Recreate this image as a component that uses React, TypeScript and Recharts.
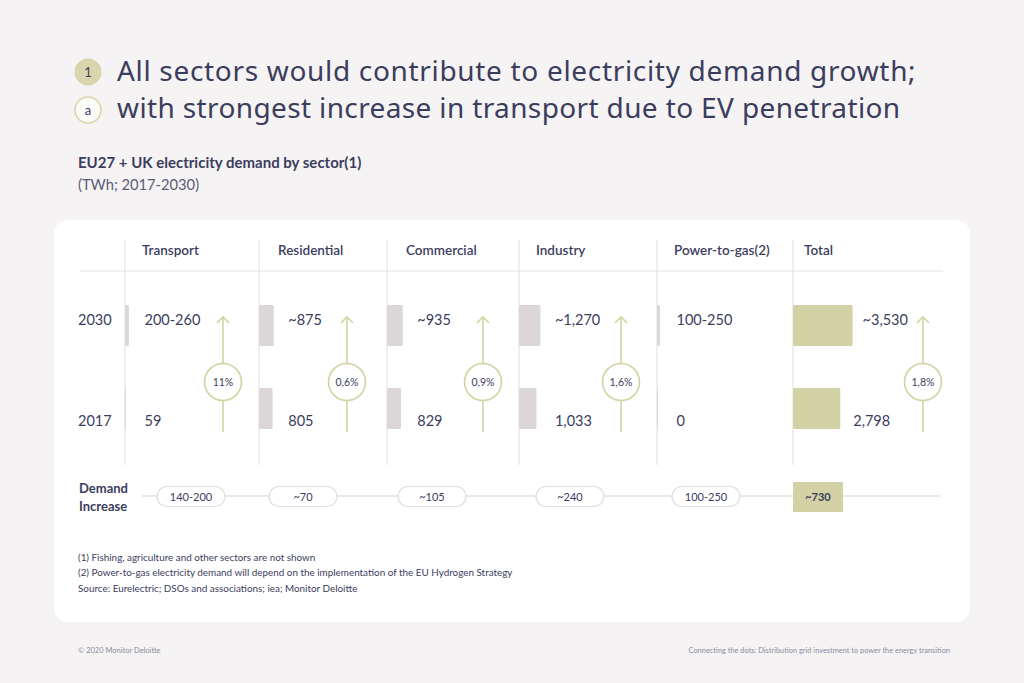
import React from 'react';
import { BarChart, Bar, XAxis, YAxis, Cell, LabelList } from 'recharts';

const sectors = ['Transport', 'Residential', 'Commercial', 'Industry', 'Power-to-gas(2)', 'Total'];
const years = ['2030', '2017'];
// TWh; ranges plotted at their midpoint
const demand2030 = [230, 875, 935, 1270, 175, 3530];
const demand2017 = [59, 805, 829, 1033, 0, 2798];
const labels2030 = ['200-260', '~875', '~935', '~1,270', '100-250', '~3,530'];
const labels2017 = ['59', '805', '829', '1,033', '0', '2,798'];
const growthRates = ['11%', '0,6%', '0,9%', '1,6%', '', '1,8%'];
const demandIncrease = ['140-200', '~70', '~105', '~240', '100-250', '~730'];

const footnotes = [
  '(1) Fishing, agriculture and other sectors are not shown',
  '(2) Power-to-gas electricity demand will depend on the implementation of the EU Hydrogen Strategy',
  'Source: Eurelectric; DSOs and associations; iea; Monitor Deloitte',
];

const INK = '#3b3d5d';
const OLIVE = '#d3d1a6';
const GREYBAR = '#dcd6d6';
const ARROW = '#d2d2a2';
const FONT = 'Lato, "Open Sans", sans-serif';

// layout
const colX = [125, 259, 387, 519, 657, 793];
const headerX = [142, 278, 406, 536, 674, 804];
const arrowX = [223, 347, 483, 621, 0, 923];
const pillX = [191, 303, 432, 570, 706, 818];
const PLOT_W = 130;
const MAX_X = 7700;
const CHART_TOP = 284;
const CHART_H = 166;
const rowDy = [-0.5, 17.5];

const rowsFor = (i: number) => [
  { year: years[0], value: demand2030[i], label: labels2030[i] },
  { year: years[1], value: demand2017[i], label: labels2017[i] },
];

// sector labels line up after the longer of the two bars, total labels follow their own bar
const makeLabel = (i: number) => (props: any) => {
  const { x, y, height, width, value, index } = props;
  const isTotal = i === sectors.length - 1;
  const longest = (Math.max(demand2030[i], demand2017[i]) / MAX_X) * PLOT_W;
  const lx = isTotal
    ? Number(x) + Number(width) + (index === 0 ? 10 : 13)
    : Number(x) + Math.max(longest, 5) + 14.5;
  return (
    <text
      x={lx}
      y={Number(y) + Number(height) / 2 + rowDy[index]}
      fill={INK}
      fontSize={14.5}
      fontFamily={FONT}
    >
      {value}
    </text>
  );
};

const YearTick = (props: any) => {
  const { y, payload, index } = props;
  return (
    <text x={8} y={Number(y) + rowDy[index]} fill={INK} fontSize={14.5} fontFamily={FONT}>
      {payload.value}
    </text>
  );
};

function SectorChart({ i }: { i: number }) {
  const first = i === 0;
  const yW = first ? 55 : 0;
  const color = i === sectors.length - 1 ? OLIVE : GREYBAR;
  const Label = makeLabel(i);
  return (
    <div style={{ position: 'absolute', left: colX[i] - yW, top: CHART_TOP }}>
      <BarChart
        layout="vertical"
        width={PLOT_W + yW}
        height={CHART_H}
        data={rowsFor(i)}
        margin={{ top: 0, right: 0, bottom: 0, left: 0 }}
        barSize={41}
      >
        <XAxis type="number" domain={[0, MAX_X]} hide />
        <YAxis
          type="category"
          dataKey="year"
          hide={!first}
          width={yW}
          axisLine={false}
          tickLine={false}
          tick={<YearTick />}
        />
        <Bar dataKey="value" fill={color} radius={1.5} minPointSize={1} isAnimationActive={false}>
          {rowsFor(i).map((r) => (
            <Cell key={r.year} fill={color} />
          ))}
          <LabelList dataKey="label" content={<Label />} />
        </Bar>
      </BarChart>
    </div>
  );
}

export default function App() {
  const titleFont = '"Noto Sans", sans-serif';
  return (
    <div
      style={{
        position: 'absolute',
        left: 0,
        top: 0,
        width: 1024,
        height: 683,
        background: '#f5f3f4',
        overflow: 'hidden',
        fontFamily: FONT,
      }}
    >
      <svg width={1024} height={683} style={{ position: 'absolute', left: 0, top: 0 }}>
        {/* title */}
        <circle cx={88} cy={72} r={13.5} fill="#d8d6ad" />
        <text x={88} y={77} textAnchor="middle" fontSize={13} fill={INK} fontFamily={FONT}>1</text>
        <circle cx={88} cy={110} r={13} fill="#fbfbf8" stroke="#d8d6ad" strokeWidth={1.6} />
        <text x={88} y={114.5} textAnchor="middle" fontSize={13} fill={INK} fontFamily={FONT}>a</text>
        <text x={117} y={81} fontSize={28} fontWeight={400} letterSpacing={0.68} fill={INK} fontFamily={titleFont}>
          All sectors would contribute to electricity demand growth;
        </text>
        <text x={117} y={118} fontSize={28} fontWeight={400} letterSpacing={0.37} fill={INK} fontFamily={titleFont}>
          with strongest increase in transport due to EV penetration
        </text>
        <text x={78} y={168} fontSize={15} fontWeight={700} fill={INK} fontFamily={FONT}>
          EU27 + UK electricity demand by sector(1)
        </text>
        <text x={78} y={190} fontSize={14.7} fill="#5a5d74" fontFamily={FONT}>
          (TWh; 2017-2030)
        </text>

        {/* card */}
        <rect x={54} y={220} width={916} height={402} rx={14} fill="#ffffff" />

        {/* grid */}
        <line x1={80} x2={943} y1={271} y2={271} stroke="#ececec" strokeWidth={1.5} />
        {colX.map((x) => (
          <line key={x} x1={x} x2={x} y1={240} y2={465} stroke="#e4e4e4" strokeWidth={1.2} />
        ))}
        {sectors.map((s, i) => (
          <text key={s} x={headerX[i]} y={255} fontSize={13.5} fontWeight={600} fill={INK} fontFamily={FONT}>
            {s}
          </text>
        ))}

        {/* growth arrows */}
        {growthRates.map((g, i) =>
          g ? (
            <g key={i} stroke={ARROW} strokeWidth={1.6} fill="none">
              <line x1={arrowX[i]} x2={arrowX[i]} y1={317} y2={363.5} />
              <line x1={arrowX[i]} x2={arrowX[i]} y1={400.5} y2={432} />
              <polyline points={`${arrowX[i] - 6},${323} ${arrowX[i]},${317} ${arrowX[i] + 6},${323}`} />
              <circle cx={arrowX[i]} cy={382} r={18.5} fill="#ffffff" />
              <text
                x={arrowX[i]}
                y={386}
                textAnchor="middle"
                fontSize={10.5}
                fill={INK}
                stroke="none"
                fontFamily={FONT}
              >
                {g}
              </text>
            </g>
          ) : null
        )}

        {/* demand increase */}
        <text x={79} y={493} fontSize={13} fontWeight={700} fill={INK} fontFamily={FONT}>Demand</text>
        <text x={79} y={511} fontSize={13} fontWeight={700} fill={INK} fontFamily={FONT}>Increase</text>
        <line x1={142} x2={940} y1={496} y2={496} stroke="#e2e2e2" strokeWidth={1.5} />
        {demandIncrease.map((d, i) => {
          const total = i === demandIncrease.length - 1;
          return (
            <g key={d}>
              {total ? (
                <rect x={pillX[i] - 25} y={482} width={50} height={30} fill={OLIVE} />
              ) : (
                <rect x={pillX[i] - 34} y={486.5} width={68} height={20} rx={10} fill="#ffffff" stroke="#dddddd" strokeWidth={1.2} />
              )}
              <text x={pillX[i]} y={500.5} textAnchor="middle" fontSize={11} fontWeight={total ? 700 : 400} fill={INK} fontFamily={FONT}>
                {d}
              </text>
            </g>
          );
        })}

        {/* footnotes */}
        {footnotes.map((f, i) => (
          <text key={i} x={78} y={561 + i * 15.3} fontSize={9.9} fill={INK} fontFamily={FONT}>
            {f}
          </text>
        ))}
        <text x={78} y={653} fontSize={7.5} fill="#8b8c9c" fontFamily={FONT}>© 2020 Monitor Deloitte</text>
        <text x={950} y={653} textAnchor="end" fontSize={7.42} fill="#8b8c9c" fontFamily={FONT}>
          Connecting the dots: Distribution grid investment to power the energy transition
        </text>
      </svg>

      {sectors.map((s, i) => (
        <SectorChart key={s} i={i} />
      ))}
    </div>
  );
}
